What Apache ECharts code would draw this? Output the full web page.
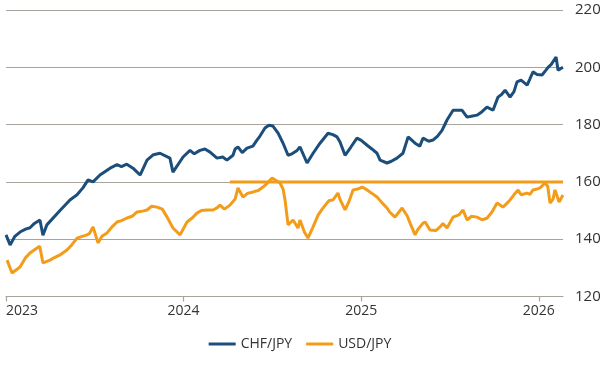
<!DOCTYPE html>
<html>
<head>
<meta charset="utf-8">
<script src="https://cdn.jsdelivr.net/npm/echarts@6/dist/echarts.min.js"></script>
<style>html,body{margin:0;padding:0;background:#fff}#c{width:600px;height:380px}</style>
</head>
<body>
<div id="c"></div>
<script>
// time in decimal years
const chfTime = [2023.000,2023.023,2023.05,2023.079,2023.11,2023.135,2023.16,2023.191,2023.208,2023.23,2023.304,2023.360,2023.40,2023.434,2023.462,2023.49,2023.529,2023.586,2023.625,2023.65,2023.68,2023.715,2023.755,2023.794,2023.83,2023.867,2023.923,2023.940,2023.997,2024.036,2024.06,2024.092,2024.12,2024.149,2024.188,2024.22,2024.244,2024.278,2024.29,2024.306,2024.33,2024.357,2024.39,2024.413,2024.43,2024.458,2024.48,2024.503,2024.532,2024.560,2024.588,2024.61,2024.639,2024.655,2024.695,2024.729,2024.768,2024.813,2024.84,2024.864,2024.88,2024.909,2024.94,2024.976,2025.00,2025.033,2025.06,2025.089,2025.106,2025.145,2025.17,2025.201,2025.235,2025.264,2025.303,2025.33,2025.348,2025.38,2025.404,2025.43,2025.455,2025.483,2025.517,2025.568,2025.596,2025.62,2025.652,2025.68,2025.708,2025.742,2025.770,2025.79,2025.810,2025.838,2025.86,2025.877,2025.90,2025.934,2025.95,2025.967,2025.99,2026.018,2026.04,2026.052,2026.07,2026.097,2026.108,2026.136];
const chfJpy  = [141.5,138,141,142.5,143.5,144,145.5,146.7,141.4,145,150,153.7,155.5,158,160.7,160,162.4,164.8,166,165.3,166.2,164.8,162.4,167.6,169.5,170,168.3,163.4,168.7,171,169.8,171,171.5,170.4,168.3,168.7,167.6,169.3,171.5,172.2,170.2,171.8,172.5,174.6,176,178.8,179.8,179.5,177,173.5,169.3,169.8,171,172.2,166.6,170,173.5,177,176.5,175.7,174,169.3,172,175.3,174.5,172.8,171.5,170,167.6,166.6,167.2,168.3,170,175.7,173.5,172.5,175.3,174.2,174.6,176,178,181.6,185,185,182.6,182.9,183.3,184.5,186.1,185,189.6,190.5,192,189.6,191.5,194.9,195.5,193.8,196,198.4,197.5,197.3,199,200,201,203.6,199,200];
const usdTime = [2023.006,2023.034,2023.079,2023.11,2023.135,2023.175,2023.19,2023.208,2023.248,2023.27,2023.304,2023.343,2023.37,2023.400,2023.43,2023.456,2023.47,2023.490,2023.518,2023.54,2023.569,2023.60,2023.625,2023.65,2023.681,2023.71,2023.738,2023.77,2023.794,2023.82,2023.850,2023.88,2023.907,2023.940,2023.980,2024.019,2024.05,2024.075,2024.10,2024.132,2024.166,2024.19,2024.205,2024.23,2024.261,2024.29,2024.306,2024.334,2024.36,2024.391,2024.42,2024.447,2024.47,2024.498,2024.52,2024.543,2024.56,2024.571,2024.588,2024.616,2024.644,2024.655,2024.68,2024.700,2024.729,2024.757,2024.78,2024.807,2024.82,2024.841,2024.869,2024.88,2024.909,2024.93,2024.954,2024.98,2025.005,2025.033,2025.06,2025.089,2025.12,2025.145,2025.16,2025.190,2025.230,2025.26,2025.275,2025.303,2025.32,2025.348,2025.36,2025.387,2025.42,2025.444,2025.46,2025.483,2025.517,2025.55,2025.573,2025.596,2025.62,2025.652,2025.68,2025.708,2025.736,2025.765,2025.798,2025.82,2025.838,2025.86,2025.883,2025.90,2025.934,2025.95,2025.967,2025.99,2026.007,2026.035,2026.05,2026.063,2026.08,2026.091,2026.114,2026.136];
const usdJpy  = [132.7,128.2,130.3,133.5,135.2,136.9,137.5,131.7,132.7,133.5,134.5,136.2,138,140.4,141,141.5,142,144.3,138.7,141,142.2,144.5,146,146.5,147.4,148,149.5,149.8,150.2,151.5,151.2,150.5,147.7,143.9,141.5,146,147.5,149.1,150,150.2,150.2,151,151.9,150.5,151.9,154,157.9,154.7,156,156.5,157,158.2,159.5,161.4,160.5,159.6,157.5,153.7,145,146.7,143.9,146.7,142.5,140.4,144.3,148.4,150.5,152.6,153.5,153.7,156.1,154,150.2,153,157.2,157.5,158.2,157.2,156,154.7,152.5,150.9,149.5,147.7,150.9,148,145.6,141.5,143.5,145.6,146,143.2,143,144.3,145.5,143.9,147.7,148.5,150.2,146.7,148,147.7,146.8,147.3,149.5,152.6,151.2,152.5,153.7,155.5,157.2,155.5,156.1,155.6,157.2,157.5,157.9,159.6,158.5,152.6,154,157.2,153,155.4];
const capTime  = [2024.26, 2026.136];
const capLevel = [160, 160];
const yearTicks = [2023, 2024, 2025, 2026];
const yTicks = [120, 140, 160, 180, 200, 220];

const zip = (a, b) => a.map((t, i) => [t, b[i]]);
const BLUE = '#1b4e7b', ORANGE = '#f39c19', GRID = '#a8a49d', TXT = '#333333';
const FONT = 'Open Sans';

const chart = echarts.init(document.getElementById('c'));
chart.setOption({
  animation: false,
  textStyle: { fontFamily: FONT },
  grid: { left: 6, right: 37, top: 10, bottom: 83.5, containLabel: false, outerBoundsMode: 'none' },
  xAxis: {
    type: 'value', min: 2023, max: 2026.136, interval: 1,
    axisLine: { lineStyle: { color: GRID, width: 1.2 } },
    axisTick: { show: true, length: 5, customValues: yearTicks, lineStyle: { color: GRID, width: 1.2 } },
    axisLabel: { customValues: yearTicks, color: TXT, fontSize: 14, fontFamily: FONT, margin: 8, alignMinLabel: 'left', formatter: v => String(Math.round(v)) },
    splitLine: { show: false }
  },
  yAxis: {
    type: 'value', position: 'right', min: yTicks[0], max: yTicks[yTicks.length - 1], interval: 20,
    axisLine: { show: false }, axisTick: { show: false },
    axisLabel: { color: TXT, fontSize: 15, fontFamily: FONT, margin: 12 },
    splitLine: { lineStyle: { color: GRID, width: 1.2 } }
  },
  legend: {
    bottom: 24, left: 'center', icon: 'rect', itemWidth: 27, itemHeight: 3, itemGap: 14,
    data: ['CHF/JPY', 'USD/JPY'],
    textStyle: { color: TXT, fontSize: 14, fontFamily: FONT }
  },
  series: [
    { name: 'CHF/JPY', type: 'line', data: zip(chfTime, chfJpy), showSymbol: false, lineStyle: { color: BLUE, width: 3 }, itemStyle: { color: BLUE } },
    { name: 'USD/JPY', type: 'line', data: zip(usdTime, usdJpy), showSymbol: false, lineStyle: { color: ORANGE, width: 3 }, itemStyle: { color: ORANGE } },
    { name: 'cap', type: 'line', data: zip(capTime, capLevel), showSymbol: false, lineStyle: { color: ORANGE, width: 3 }, itemStyle: { color: ORANGE }, z: 1 }
  ]
});
</script>
</body>
</html>
